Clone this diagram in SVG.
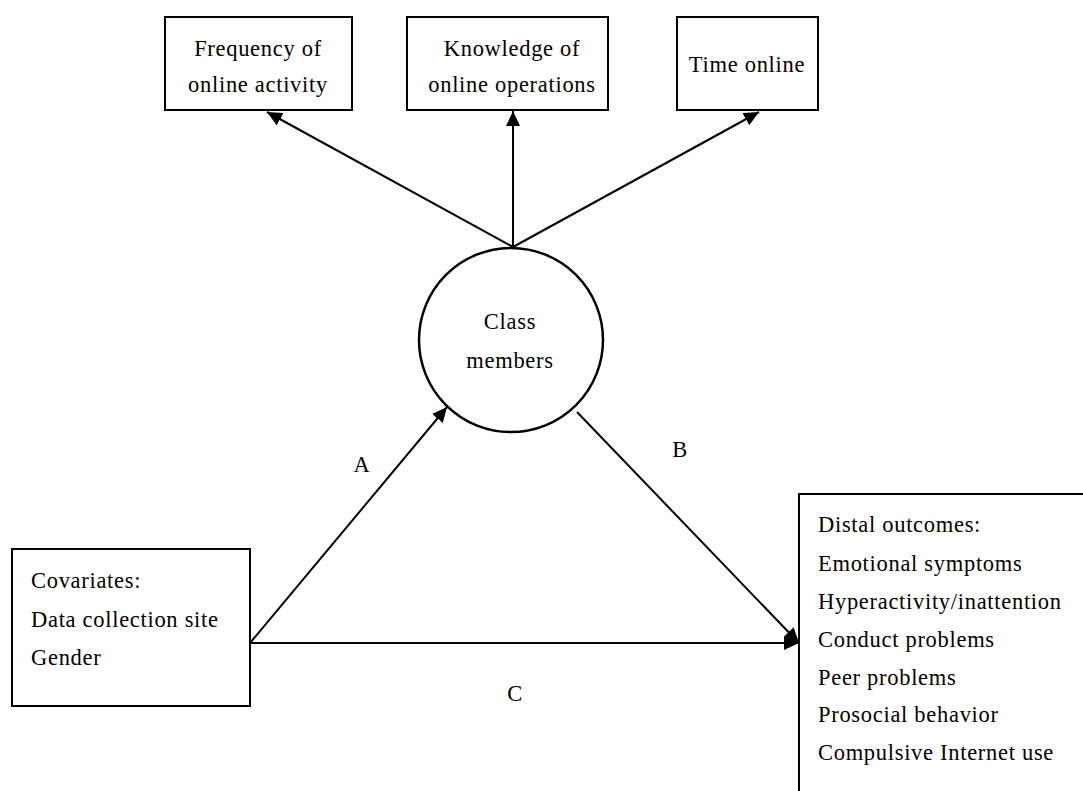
<svg xmlns="http://www.w3.org/2000/svg" width="1083" height="791" viewBox="0 0 1083 791">
<style>
.box{fill:#fff;stroke:#000;stroke-width:2}
.t{font-family:"Liberation Serif","Times New Roman",serif;font-size:22.5px;letter-spacing:0.7px;fill:#000}
.c{text-anchor:middle}
.ln{stroke:#000;stroke-width:2;fill:none}
</style>
<defs>
<marker id="ah" markerUnits="userSpaceOnUse" markerWidth="16" markerHeight="14" refX="15" refY="7" orient="auto">
<path d="M0,0 L15,7 L0,14 Z" fill="#000"/>
</marker>
</defs>
<rect width="1083" height="791" fill="#fff"/>
<g id="connectors">
<line class="ln" x1="513" y1="247" x2="267" y2="112" marker-end="url(#ah)"/>
<line class="ln" x1="513" y1="247" x2="513" y2="111" marker-end="url(#ah)"/>
<line class="ln" x1="513" y1="247" x2="759" y2="112" marker-end="url(#ah)"/>
<line class="ln" x1="250" y1="643" x2="447" y2="407" marker-end="url(#ah)"/>
<line class="ln" x1="577" y1="412" x2="799" y2="643" marker-end="url(#ah)"/>
<line class="ln" x1="250" y1="643" x2="799" y2="643" marker-end="url(#ah)"/>
<text class="t c" x="362" y="472">A</text>
<text class="t c" x="680" y="457">B</text>
<text class="t c" x="515" y="701">C</text>
</g>
<g id="freq">
<rect class="box" x="165" y="17" width="187" height="93"/>
<text class="t c" x="258" y="56">Frequency of</text>
<text class="t c" x="258" y="92">online activity</text>
</g>
<g id="knowledge">
<rect class="box" x="407" y="17" width="201" height="93"/>
<text class="t c" x="512" y="56">Knowledge of</text>
<text class="t c" x="512" y="92">online operations</text>
</g>
<g id="time">
<rect class="box" x="677" y="17" width="141" height="93"/>
<text class="t c" x="747" y="72">Time online</text>
</g>
<g id="class">
<circle cx="511" cy="340" r="92" fill="#fff" stroke="#000" stroke-width="2.5"/>
<text class="t c" x="510" y="329">Class</text>
<text class="t c" x="510" y="368">members</text>
</g>
<g id="covariates">
<rect class="box" x="12" y="549" width="238" height="157"/>
<text class="t" x="31" y="588">Covariates:</text>
<text class="t" x="31" y="627">Data collection site</text>
<text class="t" x="31" y="665">Gender</text>
</g>
<g id="outcomes">
<path class="box" d="M1084,494 H799 V792"/>
<text class="t" x="818" y="532">Distal outcomes:</text>
<text class="t" x="818" y="571">Emotional symptoms</text>
<text class="t" x="818" y="609">Hyperactivity/inattention</text>
<text class="t" x="818" y="647">Conduct problems</text>
<text class="t" x="818" y="685">Peer problems</text>
<text class="t" x="818" y="722">Prosocial behavior</text>
<text class="t" x="818" y="760">Compulsive Internet use</text>
</g>
</svg>
